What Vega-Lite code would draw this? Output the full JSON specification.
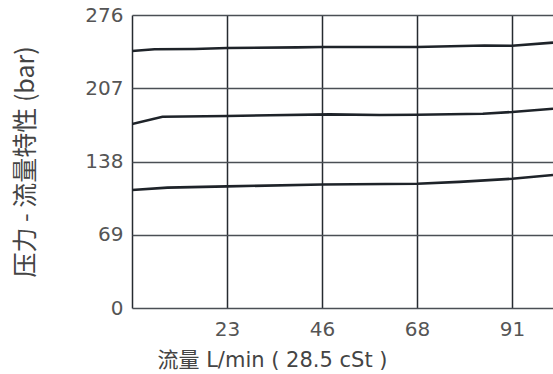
{
  "$schema": "https://vega.github.io/schema/vega-lite/v6.json",
  "autosize": "none",
  "width": 421,
  "height": 293,
  "padding": {"left": 132, "top": 15, "right": 0, "bottom": 66},
  "background": "white",
  "config": {"view": {"stroke": null}},
  "data": {"values": [
    {"s": "a", "x": 0, "y": 242.1},
    {"s": "a", "x": 5.4, "y": 243.7},
    {"s": "a", "x": 15, "y": 244.0},
    {"s": "a", "x": 22.75, "y": 244.9},
    {"s": "a", "x": 39.4, "y": 245.5},
    {"s": "a", "x": 45.5, "y": 245.9},
    {"s": "a", "x": 68.25, "y": 245.9},
    {"s": "a", "x": 84.4, "y": 247.3},
    {"s": "a", "x": 91, "y": 247.0},
    {"s": "a", "x": 100.8, "y": 250.0},
    {"s": "b", "x": 0, "y": 173.3},
    {"s": "b", "x": 7.3, "y": 180.2},
    {"s": "b", "x": 22.75, "y": 180.9},
    {"s": "b", "x": 33, "y": 181.5},
    {"s": "b", "x": 47.3, "y": 182.4},
    {"s": "b", "x": 59.3, "y": 181.8},
    {"s": "b", "x": 68.25, "y": 182.1},
    {"s": "b", "x": 84, "y": 183.0},
    {"s": "b", "x": 91, "y": 184.6},
    {"s": "b", "x": 100.8, "y": 187.7},
    {"s": "c", "x": 0, "y": 111.2},
    {"s": "c", "x": 8.5, "y": 113.4},
    {"s": "c", "x": 22.75, "y": 114.6},
    {"s": "c", "x": 45.5, "y": 116.3},
    {"s": "c", "x": 68.25, "y": 117.0},
    {"s": "c", "x": 78.4, "y": 118.8},
    {"s": "c", "x": 91, "y": 121.7},
    {"s": "c", "x": 100.8, "y": 125.3}
  ]},
  "mark": {"type": "line", "stroke": "#1e2329", "strokeWidth": 2.6, "clip": true},
  "encoding": {
    "detail": {"field": "s"},
    "x": {
      "field": "x", "type": "quantitative",
      "scale": {"domain": [0, 100.8], "nice": false, "zero": false},
      "axis": {
        "values": [0, 22.75, 45.5, 68.25, 91],
        "labelExpr": "datum.value == 0 ? '' : format(datum.value, '.0f')",
        "domain": false, "ticks": false,
        "grid": true, "gridColor": "#262b30", "gridWidth": 1.5, "gridOpacity": 1,
        "labelFont": "DejaVu Sans", "labelFontSize": 20, "labelColor": "#555", "labelPadding": 11,
        "labelFlush": false,
        "title": "流量 L/min ( 28.5 cSt )",
        "titleFont": "DejaVu Sans, Noto Sans CJK SC", "titleFontSize": 21, "titleFontWeight": "normal", "titleColor": "#444",
        "titleAlign": "left", "titleAnchor": "start", "titleX": 25, "titleY": 52, "titleBaseline": "middle"
      }
    },
    "y": {
      "field": "y", "type": "quantitative",
      "scale": {"domain": [0, 276], "nice": false},
      "axis": {
        "values": [0, 69, 138, 207, 276],
        "domain": false, "ticks": false,
        "grid": true, "gridColor": "#4a4f55", "gridWidth": 1.3, "gridOpacity": 1,
        "labelFont": "DejaVu Sans", "labelFontSize": 20, "labelColor": "#555", "labelPadding": 9,
        "labelFlush": false,
        "title": "压力 - 流量特性 (bar)",
        "titleFont": "Noto Sans CJK SC", "titleFontSize": 25, "titleFontWeight": "normal", "titleColor": "#444",
        "titleAngle": -90, "titleAlign": "center", "titleBaseline": "middle",
        "titleX": -107, "titleY": 146.5
      }
    }
  }
}
